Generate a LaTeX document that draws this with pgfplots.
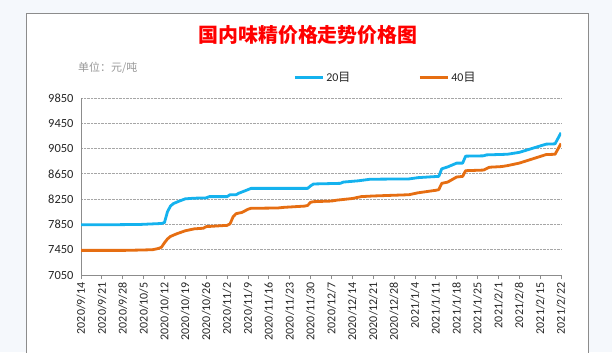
\documentclass[border=0pt]{standalone}
\usepackage{pgfplots}
\pgfplotsset{compat=1.18}
\usepackage{fontspec}
\setmainfont{Carlito}
\newfontfamily\cjk{Noto Sans CJK SC}
\definecolor{bgc}{RGB}{245,248,252}
\definecolor{sblue}{RGB}{20,178,238}
\definecolor{sorange}{RGB}{230,110,18}
\definecolor{boxgray}{RGB}{140,140,140}
\begin{document}
\begin{tikzpicture}[x=1bp,y=1bp]
\path[use as bounding box] (0,0) rectangle (612,352);
\fill[bgc] (0,0) rectangle (612,352);
\filldraw[fill=white,draw=boxgray,line width=0.8bp] (26.5,-5) rectangle (588,338.7);
\node[text=red, font=\cjk\bfseries\fontsize{20}{20}\selectfont] at (308,317) {国内味精价格走势价格图};
\node[anchor=west, text=black!40, font=\cjk\fontsize{11}{11}\selectfont, inner sep=0pt] at (78,284) {单位：元/吨};
\begin{axis}[
  at={(81bp,77bp)}, anchor=south west,
  scale only axis, width=480bp, height=177bp,
  xmin=0, xmax=161, ymin=7050, ymax=9850,
  ytick={7050,7450,8250,8650,9050,9450,9850,7850},
  xtick={0,7,...,161},
  xticklabels={2020/9/14,2020/9/21,2020/9/28,2020/10/5,2020/10/12,2020/10/19,2020/10/26,2020/11/2,2020/11/9,2020/11/16,2020/11/23,2020/11/30,2020/12/7,2020/12/14,2020/12/21,2020/12/28,2021/1/4,2021/1/11,2021/1/18,2021/1/25,2021/2/1,2021/2/8,2021/2/15,2021/2/22},
  x tick label style={rotate=90, anchor=east, font=\fontsize{12}{12}\selectfont, text=black!85},
  y tick label style={font=\fontsize{12.5}{12.5}\selectfont, text=black!85},
  /pgf/number format/assume math mode=true,
  /pgf/number format/set thousands separator={},
  ymajorgrids, grid style={densely dotted, black!35, line width=0.8bp},
  axis x line*=bottom, axis y line*=left,
  axis line style={draw=black!45, line width=0.9bp, -},
  tick align=outside, major tick length=4bp,
  xtick style={draw=black!45, line width=0.8bp},
  ytick style={draw=none},
  legend style={at={(0.442,1.113)}, anchor=west, legend columns=2, draw=none, fill=none,
    inner sep=0pt, font=\fontsize{12}{12}\selectfont, text=black!85,
    /tikz/every even column/.append style={column sep=66bp}},
  legend image code/.code={\draw[#1, line width=3bp] (0bp,0bp)--(28bp,0bp);},
]
\addplot[sblue, line width=2.8bp, line join=round] coordinates {
(0,7845)(10,7845)(20,7850)(27,7865)(28,7880)(29,8050)(30,8140)(31,8180)(33,8220)(35,8255)(38,8265)(42,8270)(43,8290)(49,8290)(50,8320)(52,8320)(53,8345)(56,8400)(57,8420)(76,8420)(77,8460)(78,8490)(87,8500)(88,8520)(93,8540)(97,8565)(110,8570)(113,8590)(118,8605)(120,8610)(121,8730)(123,8760)(126,8820)(128,8820)(129,8930)(135,8935)(136,8950)(143,8960)(147,8990)(156,9120)(159,9125)(161,9300)
};
\addlegendentry{20{\cjk 目}}
\addplot[sorange, line width=2.8bp, line join=round] coordinates {
(0,7440)(15,7440)(20,7445)(24,7450)(26,7470)(27,7490)(28,7560)(29,7620)(30,7660)(32,7700)(35,7750)(38,7780)(41,7790)(42,7815)(47,7830)(49,7835)(50,7860)(51,7970)(52,8020)(54,8040)(56,8090)(57,8105)(66,8110)(68,8120)(75,8140)(76,8150)(77,8200)(78,8210)(84,8220)(86,8235)(91,8260)(94,8290)(98,8300)(104,8310)(110,8320)(113,8350)(116,8370)(119,8390)(120,8400)(121,8500)(123,8520)(126,8600)(128,8610)(129,8700)(135,8710)(137,8755)(141,8765)(143,8780)(147,8820)(156,8955)(159,8960)(161,9130)
};
\addlegendentry{40{\cjk 目}}
\end{axis}
\end{tikzpicture}
\end{document}
